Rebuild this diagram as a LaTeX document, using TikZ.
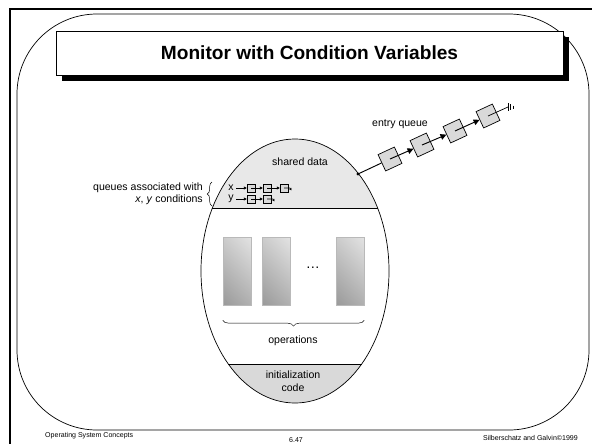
\documentclass[tikz,border=0pt]{standalone}
\usepackage{fontspec}
\setmainfont{Liberation Sans}
\usetikzlibrary{shapes,arrows.meta,positioning,calc,decorations.pathreplacing,shadings}

\begin{document}
\begin{tikzpicture}[x=0.03cm, y=-0.03cm,
    lbl/.style={font=\fontsize{9}{10.5}\selectfont, inner sep=0pt},
    foot/.style={font=\fontsize{6}{7}\selectfont, inner sep=0pt},
    opbox/.style={draw=gray!55, shade, upper left=gray!40, upper right=gray!22,
        lower left=gray!80, lower right=gray!62,
        minimum width=0.84cm, minimum height=2.04cm, inner sep=0pt},
    ecell/.style={draw, semithick, fill=gray!30, minimum size=0.54cm, inner sep=0pt, rotate=25},
    qcell/.style={draw, fill=gray!30, minimum size=0.24cm, inner sep=0pt},
    link/.style={thick, -{Triangle[length=5pt,width=5pt]}},
    slink/.style={line width=0.5pt, -{Triangle[length=2.5pt,width=2.5pt]}}]

    \useasboundingbox (0,0) rectangle (592,444);

    % frame
    \draw[line width=1.6pt] (592,9) -- (10,9) -- (10,444);
    \draw[line width=0.6pt, rounded corners=2.4cm] (17,14) rectangle (589,430);

    % title
    \fill (62,37) rectangle (569,81);
    \draw[fill=white, line width=0.5pt] (56,31) rectangle (563,75);
    \node[font=\fontsize{16.3}{19}\selectfont\bfseries] (title) at (309.5,53) {Monitor with Condition Variables};

    % monitor
    \begin{scope}
        \clip (295,271) ellipse (2.82cm and 3.96cm);
        \fill[gray!18] (190,120) rectangle (400,208);
        \fill[gray!30] (190,364) rectangle (400,420);
    \end{scope}
    \draw[semithick] (212,208) -- (378,208);
    \draw[semithick] (228,364) -- (362,364);
    \draw[semithick] (295,271) ellipse (2.82cm and 3.96cm);

    \node[lbl] (shared) at (300,162) {shared data};

    % condition queues
    \node[lbl, anchor=east, align=right] (qlabel) at (203,194) {queues associated with\\\textit{x}, \textit{y} conditions};
    \draw[decorate, decoration={brace, amplitude=4pt}] (212,206) -- (212,182);

    \node[lbl] (xname) at (231,188) {x};
    \node[qcell] (x1) at (251,188) {};
    \node[qcell] (x2) at (267,188) {};
    \node[qcell] (x3) at (284,188) {};
    \draw[slink, shorten <=2pt] (xname.east) -- (x1);
    \draw[slink] (x1.center) -- (x2);
    \draw[slink] (x2.center) -- (x3);
    \draw[line width=0.5pt, -{Triangle[length=2pt,width=2pt]}] (x3.center) -- ++(6,0) -- ++(1.5,2.5);

    \node[lbl] (yname) at (231,199) {y};
    \node[qcell] (y1) at (251,199) {};
    \node[qcell] (y2) at (267,199) {};
    \draw[slink, shorten <=2pt] (yname.east) -- (y1);
    \draw[slink] (y1.center) -- (y2);
    \draw[line width=0.5pt, -{Triangle[length=2pt,width=2pt]}] (y2.center) -- ++(6,0) -- ++(1.5,2.5);

    % entry queue
    \coordinate (door) at (358,174);
    \fill (door) circle (1.4pt);
    \node[ecell] (e1) at (390,159) {};
    \node[ecell] (e2) at (422,145) {};
    \node[ecell] (e3) at (455,131) {};
    \node[ecell] (e4) at (488,116) {};
    \draw[thick] (door) -- (e1);
    \draw[link] (e1.center) -- (e2);
    \draw[link] (e2.center) -- (e3);
    \draw[link] (e3.center) -- (e4);
    \coordinate (gnd) at (508,107);
    \draw[semithick] (e4.center) -- (gnd);
    \draw[semithick] ($(gnd)+(0,-4)$) -- ($(gnd)+(0,4)$);
    \draw[semithick] ($(gnd)+(2.5,-2.8)$) -- ($(gnd)+(2.5,2.8)$);
    \draw[semithick] ($(gnd)+(5,-1.5)$) -- ($(gnd)+(5,1.5)$);
    \node[lbl] (entry) at (400,124) {entry queue};

    % operations
    \node[opbox] (op1) at (237,271) {};
    \node[opbox] (op2) at (276,271) {};
    \node[opbox] (op3) at (350,271) {};
    \node[font=\fontsize{12}{14}\selectfont] (dots) at (313,268) {\dots};
    \draw[decorate, decoration={brace, mirror, amplitude=5pt}]
        ([yshift=-0.45cm]op1.south west) -- ([yshift=-0.45cm]op3.south east);
    \node[lbl] (ops) at (293,341) {operations};

    \node[lbl, align=center, font=\fontsize{9}{11.5}\selectfont] (init) at (293,381) {initialization\\code};

    % footer
    \node[foot, anchor=west] (course) at (45,436) {Operating System Concepts};
    \node[foot] (page) at (296,440) {6.47};
    \node[foot, anchor=east] (authors) at (578,438) {Silberschatz and Galvin©1999};
\end{tikzpicture}
\end{document}
